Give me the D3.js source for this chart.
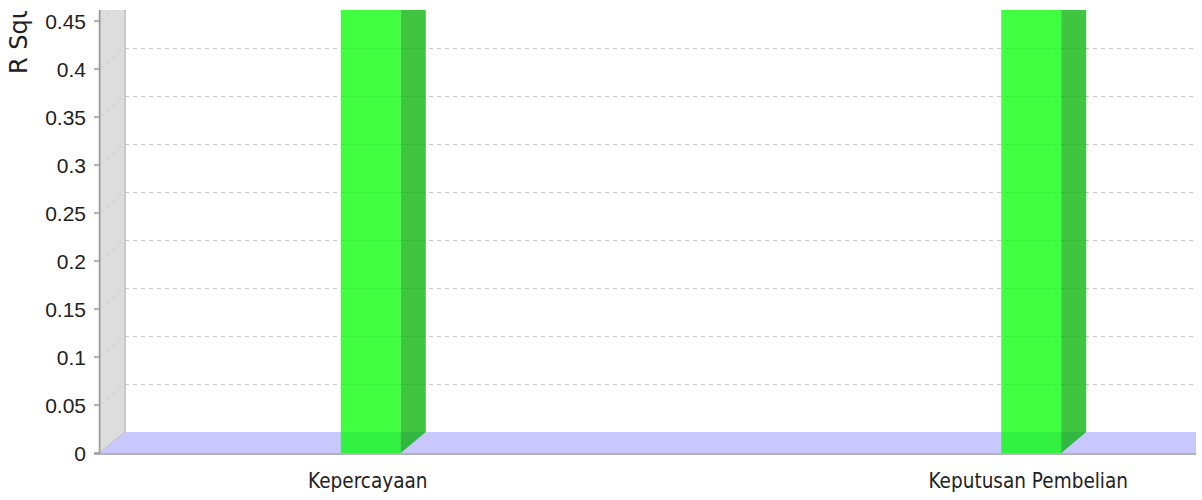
<!DOCTYPE html>
<html>
<head>
<meta charset="utf-8">
<script src="https://cdn.jsdelivr.net/npm/d3@7"></script>
<style>
  html, body { margin: 0; padding: 0; background: #fff; }
  svg { display: block; }
</style>
</head>
<body>
<div id="chart"></div>
<script>
// data (both bars run past the top of the visible axis)
const categories = ['Kepercayaan', 'Keputusan Pembelian'];
const rSquare = [0.55, 0.55];
const yTicks = [0, 0.05, 0.1, 0.15, 0.2, 0.25, 0.3, 0.35, 0.4, 0.45];
const yTitle = 'R Square';

const width = 1202, height = 500;
const plot = { left: 100, right: 1196, top: 10, bottom: 453 };
const depth = { x: 25, y: 21 };
const barWidth = 60;

const svg = d3.select('#chart').append('svg')
  .attr('width', width)
  .attr('height', height);

const y = d3.scaleLinear()
  .domain([0, 0.4615])
  .range([plot.bottom, plot.top]);

const x = d3.scalePoint()
  .domain(categories)
  .range([plot.left, 1302])
  .padding(0.41);

const defs = svg.append('defs');
defs.append('clipPath').attr('id', 'plotClip')
  .append('rect')
  .attr('x', plot.left - 1)
  .attr('y', plot.top)
  .attr('width', plot.right - plot.left + 1)
  .attr('height', plot.bottom - plot.top + 2);

// the reference image is cropped just above the plot, cutting the axis title
defs.append('clipPath').attr('id', 'titleClip')
  .append('rect')
  .attr('x', 0).attr('y', 11)
  .attr('width', 60).attr('height', 200);

const g = svg.append('g').attr('clip-path', 'url(#plotClip)');

// left wall
g.append('polygon')
  .attr('points', [
    [plot.left, plot.top - depth.y], [plot.left + depth.x, plot.top - depth.y],
    [plot.left + depth.x, plot.bottom - depth.y], [plot.left, plot.bottom]
  ].join(' '))
  .attr('fill', '#dddddd')
  .attr('stroke', '#bdbdbd')
  .attr('stroke-width', 1.5);

// floor
g.append('polygon')
  .attr('points', [
    [plot.left, plot.bottom], [plot.left + depth.x, plot.bottom - depth.y],
    [plot.right + 10, plot.bottom - depth.y], [plot.right + 10, plot.bottom]
  ].join(' '))
  .attr('fill', '#c8c8ff');

// gridlines on back plane and wall
const grid = yTicks.filter(d => d > 0);
g.selectAll('.grid')
  .data(grid)
  .join('line')
  .attr('class', 'grid')
  .attr('x1', plot.left + depth.x)
  .attr('x2', plot.right)
  .attr('y1', d => y(d) - depth.y + 0.5)
  .attr('y2', d => y(d) - depth.y + 0.5)
  .attr('stroke', '#c8c8c8')
  .attr('stroke-dasharray', '4,4');

g.selectAll('.wallgrid')
  .data(grid)
  .join('line')
  .attr('class', 'wallgrid')
  .attr('x1', plot.left)
  .attr('x2', plot.left + depth.x)
  .attr('y1', d => y(d))
  .attr('y2', d => y(d) - depth.y)
  .attr('stroke', '#c8c8c8')
  .attr('stroke-dasharray', '4,4');

// bars
const bars = g.selectAll('.bar')
  .data(categories.map((c, i) => ({ c, v: rSquare[i] })))
  .join('g')
  .attr('class', 'bar');

bars.append('rect')
  .attr('x', d => x(d.c) - barWidth / 2)
  .attr('y', d => y(d.v))
  .attr('width', barWidth)
  .attr('height', d => plot.bottom - y(d.v))
  .attr('fill', 'rgba(0,255,0,0.75)');

bars.append('polygon')
  .attr('points', d => {
    const x0 = x(d.c) + barWidth / 2;
    return [
      [x0, y(d.v)], [x0 + depth.x, y(d.v) - depth.y],
      [x0 + depth.x, plot.bottom - depth.y], [x0, plot.bottom]
    ].join(' ');
  })
  .attr('fill', 'rgba(0,178,0,0.75)');

// axes
svg.append('line')
  .attr('x1', plot.left - 0.5).attr('x2', plot.left - 0.5)
  .attr('y1', plot.top).attr('y2', plot.bottom + 1)
  .attr('stroke', '#9a9a9a')
  .attr('stroke-width', 1.5);

svg.append('line')
  .attr('x1', plot.left - 6).attr('x2', plot.right)
  .attr('y1', plot.bottom + 1).attr('y2', plot.bottom + 1)
  .attr('stroke', '#9a9a9a')
  .attr('stroke-width', 1.5);

svg.selectAll('.ytick')
  .data(yTicks)
  .join('line')
  .attr('class', 'ytick')
  .attr('x1', plot.left - 6).attr('x2', plot.left - 1)
  .attr('y1', d => y(d)).attr('y2', d => y(d))
  .attr('stroke', '#9a9a9a')
  .attr('stroke-width', 1.5);

svg.selectAll('.ylabel')
  .data(yTicks)
  .join('text')
  .attr('class', 'ylabel')
  .attr('x', 86)
  .attr('y', d => y(d) + 8)
  .attr('text-anchor', 'end')
  .attr('font-family', 'Liberation Sans, Arial, sans-serif')
  .attr('font-size', 21)
  .attr('fill', '#222')
  .text(d => String(d));

svg.append('g')
  .attr('clip-path', 'url(#titleClip)')
  .append('text')
  .attr('transform', 'translate(27,74) rotate(-90)')
  .attr('font-family', 'DejaVu Sans, sans-serif')
  .attr('font-size', 24)
  .attr('fill', '#222')
  .text(yTitle);

svg.selectAll('.xlabel')
  .data(categories)
  .join('text')
  .attr('class', 'xlabel')
  .attr('transform', d => `translate(${x(d) - 3},488) scale(0.84,1)`)
  .attr('text-anchor', 'middle')
  .attr('font-family', 'DejaVu Sans, sans-serif')
  .attr('font-size', 22)
  .attr('fill', '#222')
  .text(d => d);
</script>
</body>
</html>
